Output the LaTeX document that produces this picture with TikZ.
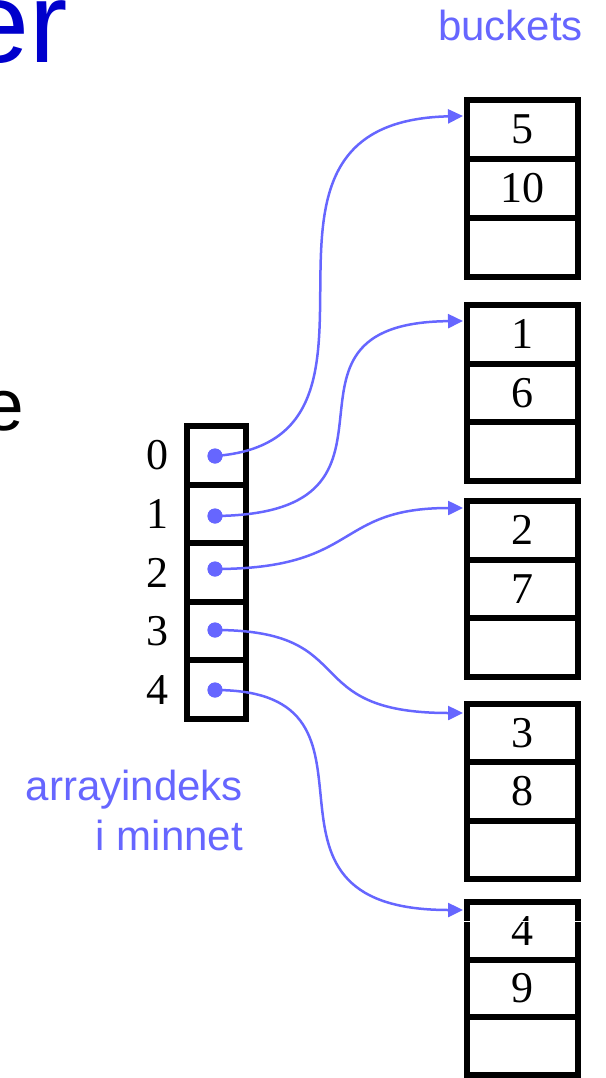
\documentclass[tikz,border=0pt]{standalone}
\usepackage{fontspec}
\setmainfont{Liberation Serif}
\newfontfamily\arialfont{Liberation Sans}
\usetikzlibrary{arrows.meta}
\definecolor{linkblue}{RGB}{102,102,255}
\definecolor{titleblue}{RGB}{0,0,204}

\begin{document}
\begin{tikzpicture}[x=1pt,y=-1pt,
  cellbox/.style={draw=black,line width=6pt,minimum width=111pt,inner sep=0pt,
    font=\fontsize{44}{44}\selectfont},
  idxbox/.style={draw=black,line width=6pt,minimum width=59pt,minimum height=58.6pt,inner sep=0pt},
  ptrdot/.style={circle,fill=linkblue,minimum size=15pt,inner sep=0pt},
  idxlabel/.style={font=\fontsize{44}{44}\selectfont,inner sep=0pt},
  link/.style={draw=linkblue,line width=2.5pt,-{Triangle[length=15pt,width=14pt]}},
  note/.style={font=\arialfont\fontsize{42}{50}\selectfont,text=linkblue,inner sep=0pt}
]
\useasboundingbox (0,0) rectangle (605,1078);

% fragments of the slide text
\node[anchor=base west,inner sep=0pt,text=titleblue,font=\arialfont\fontsize{115}{115}\selectfont] (title) at (-35,63) {er};
\node[anchor=base west,inner sep=0pt,font=\arialfont\fontsize{73}{73}\selectfont] (body) at (-17,430) {e};

% captions
\node[note,anchor=base east] (cap) at (583,41) {buckets};
\node[note,anchor=base east,align=right] (mem) at (243,850) {arrayindeks\\i minnet};

% the index array with its pointer dots
\foreach \i/\y/\dy in {0/455.3/456,1/513.9/516,2/572.5/569,3/631.1/630,4/689.7/690} {
  \node[idxbox] (a\i) at (216.5,\y) {};
  \node[idxlabel] (l\i) at (157,\y) {\i};
  \node[ptrdot] (d\i) at (215,\dy) {};
}

% the buckets, three cells each
\foreach \b/\t/\h/\u/\v in {0/100/59/5/10,1/305/58.7/1/6,2/501/58.7/2/7,3/704/58.3/3/8,4/902/57.7/4/9} {
  \node[cellbox,minimum height=\h pt] (b\b-0) at (522.5,{\t+0.5*\h}) {\u};
  \node[cellbox,minimum height=\h pt] (b\b-1) at (522.5,{\t+1.5*\h}) {\v};
  \node[cellbox,minimum height=\h pt] (b\b-2) at (522.5,{\t+2.5*\h}) {};
}
\draw[white,line width=1pt] (463,921) -- (582,921);

% arrow tips on the left edge of each bucket
\coordinate (t0) at (463,116);
\coordinate (t1) at (463,321);
\coordinate (t2) at (463,508);
\coordinate (t3) at (463,713);
\coordinate (t4) at (463,910);

% pointers from the array into the buckets
\draw[link] (d0.center) .. controls (430,440) and (203,122) .. (t0);
\draw[link] (d1.center) .. controls (439,514) and (247,323) .. (t1);
\draw[link] (d2.center) .. controls (361,569) and (333,508) .. (t2);
\draw[link] (d3.center) .. controls (364,630) and (295,713) .. (t3);
\draw[link] (d4.center) .. controls (412,690) and (223,910) .. (t4);

% dots on top of the line starts
\foreach \i/\dy in {0/456,1/516,2/569,3/630,4/690}
  \fill[linkblue] (215,\dy) circle (7.5pt);
\end{tikzpicture}
\end{document}
